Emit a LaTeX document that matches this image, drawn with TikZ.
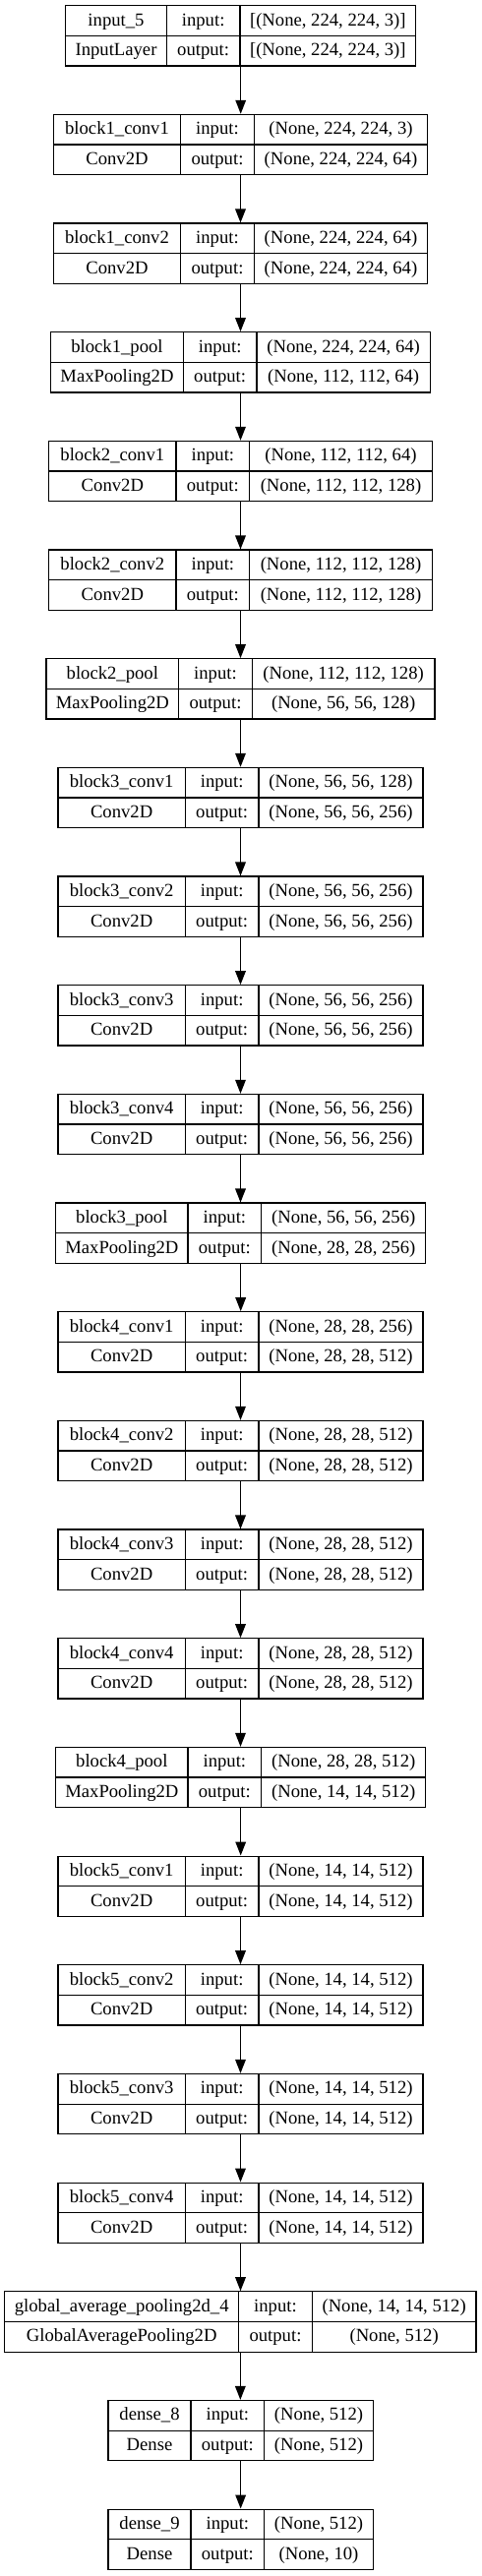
\documentclass[tikz,border=0pt]{standalone}
\usepackage{fontspec}
\setmainfont{Liberation Serif}
\usetikzlibrary{arrows.meta}
\tikzset{
  layerbox/.style={draw=black, line width=0.9pt, inner sep=0pt, rectangle},
  cellline/.style={draw=black, line width=0.9pt},
  celltext/.style={inner sep=0pt, anchor=base, font=\fontsize{14}{16.8}\selectfont},
  flow/.style={draw=black, line width=0.9pt, -{Triangle[length=10.5pt,width=8pt]}},
}
\newcommand\setgeom[4]{\def\gL{#1}\def\gS{#2}\def\gT{#3}\def\gR{#4}}
\newcommand\lay[6]{%
  \pgfmathsetmacro\lyTop{5.7+110.67*#2}%
  \pgfmathsetmacro\lyBot{\lyTop+61.3}%
  \pgfmathsetmacro\lyMid{\lyTop+30.65}%
  \pgfmathsetmacro\lyW{(\gR-\gL)*0.75}%
  \pgfmathsetmacro\lyH{61.3*0.75}%
  \node[layerbox, minimum width=\lyW pt, minimum height=\lyH pt] (#1) at ({(\gL+\gR)/2},{\lyTop+30.65}) {};
  \draw[cellline] (\gS,\lyTop) -- (\gS,\lyBot);
  \draw[cellline] (\gT,\lyTop) -- (\gT,\lyBot);
  \draw[cellline] (\gL,\lyMid) -- (\gR,\lyMid);
  \node[celltext] (#1-name) at ({(\gL+\gS)/2},{\lyTop+20.5}) {#3};
  \node[celltext] (#1-type) at ({(\gL+\gS)/2},{\lyMid+20.5}) {#4};
  \node[celltext] (#1-inl) at ({(\gS+\gT)/2},{\lyTop+20.5}) {input:};
  \node[celltext] (#1-outl) at ({(\gS+\gT)/2},{\lyMid+20.5}) {output:};
  \node[celltext] (#1-in) at ({(\gT+\gR)/2},{\lyTop+20.5}) {#5};
  \node[celltext] (#1-out) at ({(\gT+\gR)/2},{\lyMid+20.5}) {#6};
}
\begin{document}
\begin{tikzpicture}[x=0.75pt,y=-0.75pt]
\useasboundingbox (0,0) rectangle (489,2619);
\fill[white] (0,0) rectangle (489,2619);
\setgeom{66.7}{169.3}{244}{422.7}
\lay{l0}{0}{input\_5}{InputLayer}{[(None, 224, 224, 3)]}{[(None, 224, 224, 3)]}
\setgeom{54.3}{183.7}{258.3}{434.7}
\lay{l1}{1}{block1\_conv1}{Conv2D}{(None, 224, 224, 3)}{(None, 224, 224, 64)}
\lay{l2}{2}{block1\_conv2}{Conv2D}{(None, 224, 224, 64)}{(None, 224, 224, 64)}
\setgeom{51.7}{186.3}{261}{437.3}
\lay{l3}{3}{block1\_pool}{MaxPooling2D}{(None, 224, 224, 64)}{(None, 112, 112, 64)}
\setgeom{49.7}{179}{253.7}{439.3}
\lay{l4}{4}{block2\_conv1}{Conv2D}{(None, 112, 112, 64)}{(None, 112, 112, 128)}
\lay{l5}{5}{block2\_conv2}{Conv2D}{(None, 112, 112, 128)}{(None, 112, 112, 128)}
\setgeom{47}{181.7}{256.3}{442}
\lay{l6}{6}{block2\_pool}{MaxPooling2D}{(None, 112, 112, 128)}{(None, 56, 56, 128)}
\setgeom{59}{188.3}{263}{430}
\lay{l7}{7}{block3\_conv1}{Conv2D}{(None, 56, 56, 128)}{(None, 56, 56, 256)}
\lay{l8}{8}{block3\_conv2}{Conv2D}{(None, 56, 56, 256)}{(None, 56, 56, 256)}
\lay{l9}{9}{block3\_conv3}{Conv2D}{(None, 56, 56, 256)}{(None, 56, 56, 256)}
\lay{l10}{10}{block3\_conv4}{Conv2D}{(None, 56, 56, 256)}{(None, 56, 56, 256)}
\setgeom{56.7}{191}{265.7}{432.7}
\lay{l11}{11}{block3\_pool}{MaxPooling2D}{(None, 56, 56, 256)}{(None, 28, 28, 256)}
\setgeom{59}{188.3}{263}{430}
\lay{l12}{12}{block4\_conv1}{Conv2D}{(None, 28, 28, 256)}{(None, 28, 28, 512)}
\lay{l13}{13}{block4\_conv2}{Conv2D}{(None, 28, 28, 512)}{(None, 28, 28, 512)}
\lay{l14}{14}{block4\_conv3}{Conv2D}{(None, 28, 28, 512)}{(None, 28, 28, 512)}
\lay{l15}{15}{block4\_conv4}{Conv2D}{(None, 28, 28, 512)}{(None, 28, 28, 512)}
\setgeom{56.7}{191}{265.7}{432.7}
\lay{l16}{16}{block4\_pool}{MaxPooling2D}{(None, 28, 28, 512)}{(None, 14, 14, 512)}
\setgeom{59}{188.3}{263}{430}
\lay{l17}{17}{block5\_conv1}{Conv2D}{(None, 14, 14, 512)}{(None, 14, 14, 512)}
\lay{l18}{18}{block5\_conv2}{Conv2D}{(None, 14, 14, 512)}{(None, 14, 14, 512)}
\lay{l19}{19}{block5\_conv3}{Conv2D}{(None, 14, 14, 512)}{(None, 14, 14, 512)}
\lay{l20}{20}{block5\_conv4}{Conv2D}{(None, 14, 14, 512)}{(None, 14, 14, 512)}
\setgeom{4.7}{242.7}{317.3}{484}
\lay{l21}{21}{global\_average\_pooling2d\_4}{GlobalAveragePooling2D}{(None, 14, 14, 512)}{(None, 512)}
\setgeom{110}{194}{268.7}{379.3}
\lay{l22}{22}{dense\_8}{Dense}{(None, 512)}{(None, 512)}
\lay{l23}{23}{dense\_9}{Dense}{(None, 512)}{(None, 10)}
\foreach \a/\b in {l0/l1,l1/l2,l2/l3,l3/l4,l4/l5,l5/l6,l6/l7,l7/l8,l8/l9,l9/l10,l10/l11,l11/l12,l12/l13,l13/l14,l14/l15,l15/l16,l16/l17,l17/l18,l18/l19,l19/l20,l20/l21,l21/l22,l22/l23}
  \draw[flow] (\a.south) -- (\a.south |- \b.north);
\end{tikzpicture}
\end{document}
